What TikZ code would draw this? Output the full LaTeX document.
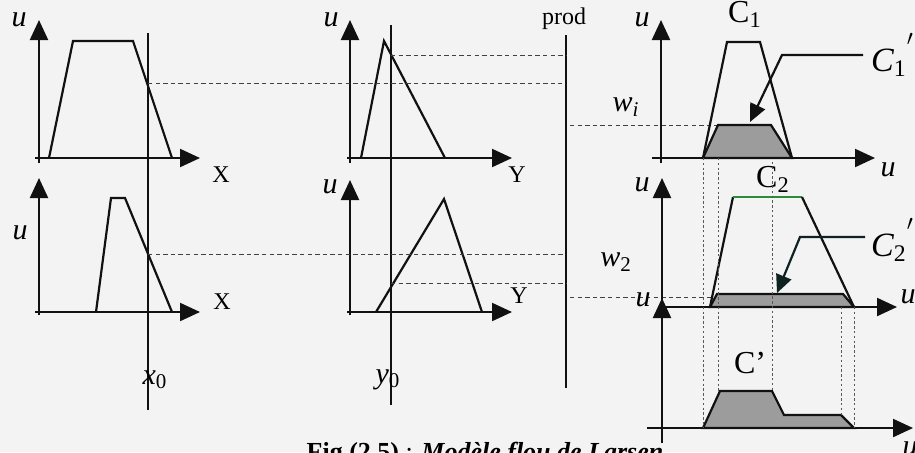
\documentclass[tikz,border=0pt]{standalone}
\usepackage{fontspec}
\setmainfont{Liberation Serif}
\usetikzlibrary{arrows.meta,positioning}
\definecolor{cInk}{HTML}{111111}
\definecolor{cCut}{HTML}{9C9C9C}
\definecolor{cPaper}{HTML}{F3F3F3}
\definecolor{cTopC}{HTML}{2E8B3A}
\newcommand{\hiprime}{\raisebox{13pt}{\fontsize{11}{11}\selectfont\upshape$\prime$}}

\begin{document}
\begin{tikzpicture}[x=0.5pt, y=-0.5pt,
  font=\fontsize{12}{14}\selectfont,
  >={Triangle[length=10pt,width=9pt]},
  axis/.style={->, draw=cInk, line width=1.1pt},
  mf/.style={draw=cInk, line width=1.1pt, line join=miter},
  cutset/.style={mf, fill=cCut},
  level/.style={draw=cInk!80, line width=0.45pt, dash pattern=on 2.2pt off 1.6pt},
  proj/.style={draw=cInk!70, line width=0.45pt, dash pattern=on 1.2pt off 1.2pt},
  cross/.style={draw=cInk, line width=0.9pt},
  lead/.style={draw=cInk, line width=1.1pt, -{Triangle[length=9pt,width=8pt]}},
  ulab/.style={font=\fontsize{15}{17}\selectfont\itshape, inner sep=0pt},
  vlab/.style={font=\fontsize{12}{14}\selectfont, inner sep=0pt},
  clab/.style={font=\fontsize{16}{18}\selectfont, inner sep=0pt}]

\useasboundingbox (0,0) rectangle (915,452);
\fill[cPaper] (0,0) rectangle (915,452);

% ---------- input x: two antecedent sets ----------
\draw[axis] (39,163) -- (39,20);
\draw[axis] (35,158) -- (200,158);
\draw[mf] (49,158) -- (73,41) -- (133,41) -- (172,158);
\node[ulab] (uA1) at (19,20) {u};
\node[vlab] (xA1) at (221,175) {X};

\draw[axis] (39,315) -- (39,178);
\draw[axis] (35,312) -- (200,312);
\draw[mf] (96,312) -- (111,198) -- (125,198) -- (172,312);
\node[ulab] (uA2) at (20,233) {u};
\node[vlab] (xA2) at (222,302) {X};

\draw[cross] (148,33) -- (148,410);
\node[ulab] (xin) at (155,380) {x\textsubscript{\upshape 0}};

% ---------- input y: two antecedent sets ----------
\draw[axis] (350,163) -- (350,20);
\draw[axis] (347,158) -- (512,158);
\draw[mf] (361,158) -- (384,41) -- (445,158);
\node[ulab] (uB1) at (331,20) {u};
\node[vlab] (yB1) at (517,175) {Y};

\draw[axis] (350,315) -- (350,180);
\draw[axis] (347,312) -- (512,312);
\draw[mf] (376,312) -- (444,199) -- (482,312);
\node[ulab] (uB2) at (330,187) {u};
\node[vlab] (yB2) at (519,296) {Y};

\draw[cross] (391,25) -- (391,405);
\node[ulab] (yin) at (388,380) {y\textsubscript{\upshape 0}};

% ---------- product operator ----------
\draw[cross] (566,35) -- (566,388);
\node[vlab] (prod) at (564,19) {prod};

% ---------- membership levels ----------
\draw[level] (148,83) -- (562,83);
\draw[level] (391,55) -- (566,55);
\draw[level] (148,254) -- (566,254);
\draw[level] (391,283) -- (566,283);
\draw[level] (570,125) -- (718,125);
\draw[level] (570,297) -- (717,297);

% ---------- consequent C1 ----------
\draw[axis] (661,163) -- (661,20);
\draw[axis] (652,158) -- (875,158);
\draw[cutset] (703,158) -- (718,125) -- (771,125) -- (792,158) -- cycle;
\draw[mf] (703,158) -- (727,42) -- (760,42) -- (792,158);
\node[ulab] (uC1) at (642,20) {u};
\node[ulab] (uC1x) at (888,170) {u};
\node[ulab] (w1) at (626,107) {w\textsubscript{\itshape i}};
\node[clab] (c1) at (745,14) {C\textsubscript{1}};
\node[clab, font=\fontsize{17}{19}\selectfont\itshape] (c1p) at (892,55)
      {C\textsubscript{\upshape 1}\hiprime};
\draw[lead] (863,55) -- (782,55) -- (750,122);

% ---------- consequent C2 ----------
\draw[axis] (662,307) -- (662,178);
\draw[axis] (662,307) -- (897,307);
\draw[cutset] (710,307) -- (717,294) -- (843,294) -- (854,307) -- cycle;
\draw[mf] (710,307) -- (733,197);
\draw[mf, draw=cTopC] (733,197) -- (802,197);
\draw[mf] (802,197) -- (854,307);
\node[ulab] (uC2) at (642,185) {u};
\node[ulab] (uC2x) at (908,297) {u};
\node[ulab] (w2) at (616,262) {w\textsubscript{\upshape 2}};
\node[clab] (c2) at (773,179) {C\textsubscript{2}};
\node[clab, font=\fontsize{17}{19}\selectfont\itshape] (c2p) at (892,240)
      {C\textsubscript{\upshape 2}\hiprime};
\draw[lead, draw=cInk!85!teal] (865,237) -- (800,237) -- (777,293);

% ---------- aggregated output C' ----------
\draw[axis] (662,443) -- (662,298);
\draw[axis] (647,428) -- (913,428);
\draw[cutset] (703,428) -- (720,391) -- (772,391) -- (784,415) -- (841,415) -- (854,428) -- cycle;
\node[ulab] (uC3) at (643,300) {u};
\node[ulab] (uC3x) at (910,449) {u};
\node[clab] (cout) at (750,363) {C'};

% ---------- projections ----------
\draw[proj] (703,158) -- (703,428);
\draw[proj] (718,158) -- (718,391);
\draw[proj] (772,162) -- (772,391);
\draw[proj] (841,307) -- (841,415);
\draw[proj] (854,307) -- (854,428);

% ---------- caption (cut by the frame) ----------
\node[anchor=base, font=\fontsize{13}{15}\selectfont, inner sep=0pt] (cap) at (485,460)
      {\textbf{Fig (2.5)} : \textit{\textbf{Modèle flou de Larsen}}};
\end{tikzpicture}
\end{document}
